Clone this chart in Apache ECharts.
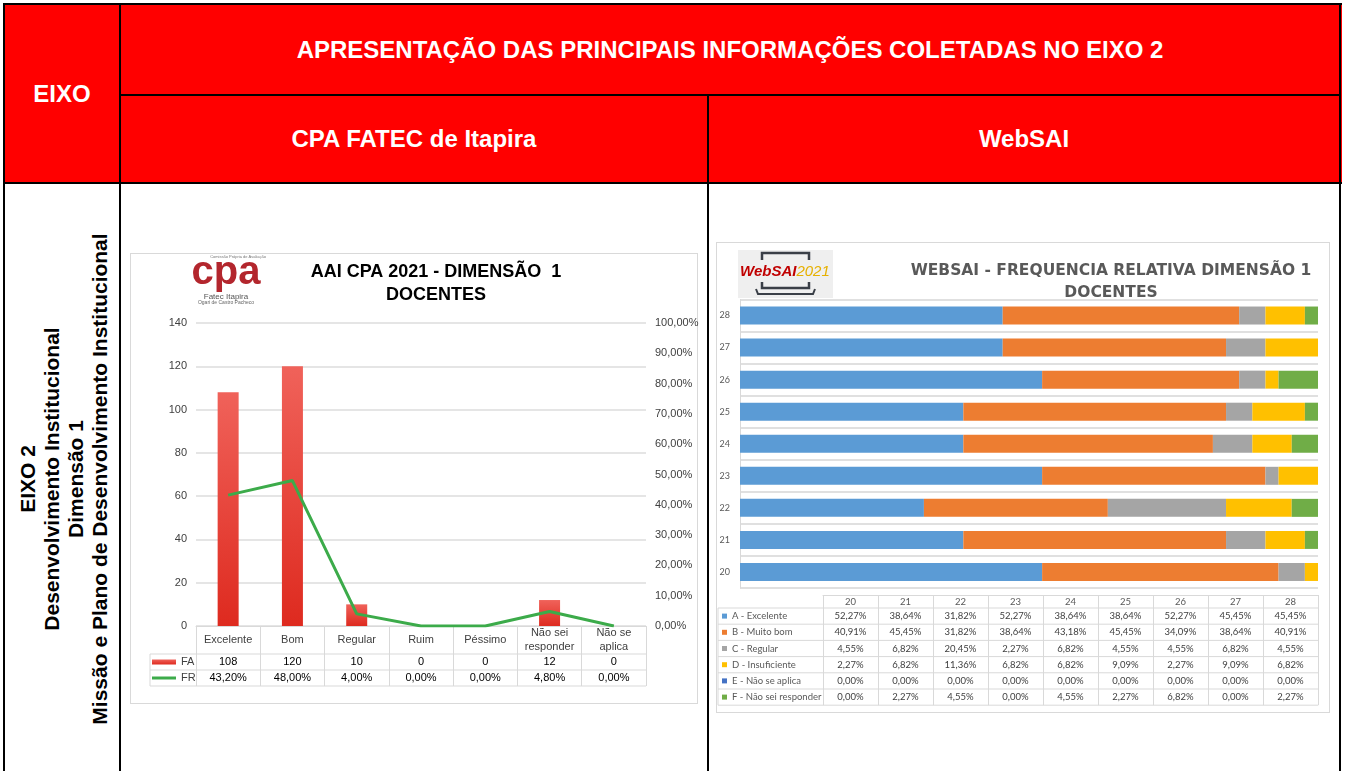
<!DOCTYPE html>
<html>
<head>
<meta charset="utf-8">
<script src="https://cdn.jsdelivr.net/npm/echarts@6/dist/echarts.min.js"></script>
<style>
  body { margin: 0; width: 1346px; height: 771px; overflow: hidden; background: #fff; font-family: "Liberation Sans", Arial, sans-serif; }
  .abs { position: absolute; }
  .ln { position: absolute; background: #000; }
  .hd { position: absolute; display: flex; align-items: center; justify-content: center; color: #fff; font-weight: bold; font-size: 24px; }
  .frame { position: absolute; border: 1px solid #d9d9d9; box-sizing: border-box; }
  #side { position: absolute; left: 64px; top: 479px; transform: translate(-50%, -50%) rotate(-90deg); white-space: nowrap; text-align: center; font-weight: bold; font-size: 21px; line-height: 24px; color: #000; }
</style>
</head>
<body>
  <!-- outer table of the report -->
  <div class="abs" style="left:3px;top:3px;width:1339px;height:180px;background:#ff0000"></div>
  <div class="hd" style="left:5px;top:5px;width:114px;height:177px">EIXO</div>
  <div class="hd" style="left:121px;top:5px;width:1218px;height:89px">APRESENTAÇÃO DAS PRINCIPAIS INFORMAÇÕES COLETADAS NO EIXO 2</div>
  <div class="hd" style="left:121px;top:96px;width:586px;height:86px">CPA FATEC de Itapira</div>
  <div class="hd" style="left:709px;top:96px;width:630px;height:86px">WebSAI</div>
  <div class="ln" style="left:3px;top:3px;width:1339px;height:2px"></div>
  <div class="ln" style="left:3px;top:3px;width:2px;height:768px"></div>
  <div class="ln" style="left:1339px;top:3px;width:2px;height:768px"></div>
  <div class="ln" style="left:119px;top:3px;width:2px;height:768px"></div>
  <div class="ln" style="left:707px;top:94px;width:2px;height:677px"></div>
  <div class="ln" style="left:119px;top:94px;width:1222px;height:2px"></div>
  <div class="ln" style="left:3px;top:182px;width:1339px;height:2px"></div>
  <div id="side">EIXO 2<br>Desenvolvimento Institucional<br>Dimensão 1<br>Missão e Plano de Desenvolvimento Institucional</div>

  <div class="frame" style="left:130px;top:253px;width:568px;height:451px"></div>
  <div id="cpa" class="abs" style="left:130px;top:253px;width:575px;height:451px"></div>
  <div class="frame" style="left:716px;top:242px;width:614px;height:471px"></div>
  <div id="websai" class="abs" style="left:716px;top:242px;width:614px;height:471px"></div>

<script>
// ---- CPA FATEC chart data ----
const cpaCategories = ["Excelente", "Bom", "Regular", "Ruim", "Péssimo", "Não sei\nresponder", "Não se\naplica"];
const cpaFA = [108, 120, 10, 0, 0, 12, 0];
const cpaFR = [43.2, 48.0, 4.0, 0, 0, 4.8, 0];
const cpaCountMax = 140, cpaCountStep = 20;
const cpaPctMax = 100, cpaPctStep = 10;

// ---- WebSAI chart data ----
const websaiCols = ["20", "21", "22", "23", "24", "25", "26", "27", "28"];
const websaiNames = ["A - Excelente", "B - Muito bom", "C - Regular", "D - Insuficiente", "E - Não se aplica", "F - Não sei responder"];
const websaiA = [52.27, 38.64, 31.82, 52.27, 38.64, 38.64, 52.27, 45.45, 45.45];
const websaiB = [40.91, 45.45, 31.82, 38.64, 43.18, 45.45, 34.09, 38.64, 40.91];
const websaiC = [4.55, 6.82, 20.45, 2.27, 6.82, 4.55, 4.55, 6.82, 4.55];
const websaiD = [2.27, 6.82, 11.36, 6.82, 6.82, 9.09, 2.27, 9.09, 6.82];
const websaiE = [0, 0, 0, 0, 0, 0, 0, 0, 0];
const websaiF = [0, 2.27, 4.55, 0, 4.55, 2.27, 6.82, 0, 2.27];
const websaiColors = ["#5b9bd5", "#ed7d31", "#a5a5a5", "#ffc000", "#4472c4", "#70ad47"];

const ARIAL = '"Liberation Sans", Arial, sans-serif';
const pct = (v) => v.toFixed(2).replace(".", ",") + "%";

function txt(x, y, text, font, fill, align) {
  return {
    type: "text", x: x, y: y, silent: true,
    style: { text: text, font: font, fill: fill, align: align || "center", textAlign: align || "center", verticalAlign: "middle", textVerticalAlign: "middle" },
  };
}
function hline(x1, x2, y, color) {
  return { type: "line", silent: true, shape: { x1: x1, y1: y, x2: x2, y2: y }, style: { stroke: color || "#d9d9d9", lineWidth: 1 } };
}
function vline(x, y1, y2, color) {
  return { type: "line", silent: true, shape: { x1: x, y1: y1, x2: x, y2: y2 }, style: { stroke: color || "#d9d9d9", lineWidth: 1 } };
}

// ================= left chart =================
const L = { left: 66, top: 70, width: 450, height: 303 };
const catRowH = 28, valRowH = 16;
const lBase = L.top + L.height;
const lRight = L.left + L.width;

const cpaChart = echarts.init(document.getElementById("cpa"));
cpaChart.setOption({
  animation: false,
  textStyle: { fontFamily: ARIAL },
  grid: L,
  legend: {
    orient: "vertical", left: 22, top: lBase + catRowH, padding: 0, itemGap: 0,
    itemWidth: 24, itemHeight: 5, selectedMode: false,
    textStyle: { fontSize: 11, lineHeight: valRowH, color: "#404040", fontFamily: ARIAL },
    data: [
      { name: "FA", icon: "rect" },
      { name: "FR", icon: "path://M0,0 L24,0 L24,3 L0,3 Z" },
    ],
  },
  xAxis: {
    type: "category",
    data: cpaCategories,
    axisLine: { lineStyle: { color: "#d9d9d9" } },
    axisTick: { show: true, length: catRowH + 2 * valRowH, lineStyle: { color: "#d9d9d9" } },
    axisLabel: {
      interval: 0, margin: 0,
      formatter: (v, i) => {
        const cat = v.indexOf("\n") >= 0
          ? v.split("\n").map((s) => "{c2|" + s + "}").join("\n")
          : "{c1|" + v + "}";
        return cat + "\n{v|" + cpaFA[i] + "}\n{v|" + pct(cpaFR[i]) + "}";
      },
      rich: {
        c1: { fontSize: 11, lineHeight: catRowH, color: "#404040", fontFamily: ARIAL },
        c2: { fontSize: 11, lineHeight: catRowH / 2, color: "#404040", fontFamily: ARIAL },
        v: { fontSize: 11, lineHeight: valRowH, color: "#000", fontFamily: ARIAL },
      },
    },
  },
  yAxis: [
    {
      type: "value", min: 0, max: cpaCountMax, interval: cpaCountStep,
      axisLine: { show: false }, axisTick: { show: false },
      axisLabel: { fontSize: 11, color: "#404040", margin: 9 },
      splitLine: { lineStyle: { color: "#dcdcdc", width: 1.5 } },
    },
    {
      type: "value", min: 0, max: cpaPctMax, interval: cpaPctStep,
      axisLine: { show: false }, axisTick: { show: false },
      axisLabel: { fontSize: 11, color: "#404040", margin: 9, formatter: (v) => pct(v) },
      splitLine: { show: false },
    },
  ],
  series: [
    {
      name: "FA", type: "bar", data: cpaFA, barWidth: 21,
      itemStyle: {
        color: new echarts.graphic.LinearGradient(0, 0, 0, 1, [
          { offset: 0, color: "#f0625a" },
          { offset: 1, color: "#de2a1f" },
        ]),
      },
    },
    {
      name: "FR", type: "line", yAxisIndex: 1, data: cpaFR, symbol: "none",
      lineStyle: { color: "#3cab4a", width: 3 }, itemStyle: { color: "#3cab4a" },
    },
  ],
  graphic: [
    // logo
    txt(96, 20, "cpa", 'bold 40px "Liberation Sans"', "#b3262d"),
    txt(108, 4, "Comissão Própria de Avaliação", '4px "Liberation Sans"', "#777"),
    txt(96, 44, "Fatec Itapira", '8px "Liberation Sans"', "#555"),
    txt(96, 50, "Ogari de Castro Pacheco", '5px "Liberation Sans"', "#666"),
    // title
    txt(306, 19, "AAI CPA 2021 - DIMENSÃO  1", 'bold 18px "Liberation Sans"', "#000"),
    txt(306, 42, "DOCENTES", 'bold 18px "Liberation Sans"', "#000"),
    // data table rules
    hline(20, lRight, lBase + catRowH),
    hline(20, lRight, lBase + catRowH + valRowH),
    hline(20, lRight, lBase + catRowH + 2 * valRowH),
    vline(20, lBase + catRowH, lBase + catRowH + 2 * valRowH),
  ],
});

// ================= right chart =================
const R = { left: 24, top: 57.5, width: 578, height: 288.5 };
const T = { left: 107, top: 353, width: 495, head: 13, row: 16.2 };
const websaiSeries = [websaiA, websaiB, websaiC, websaiD, websaiE, websaiF];
const tBody = T.top + T.head;
const tRules = [];
for (let k = 0; k <= websaiSeries.length; k++) tRules.push(hline(2, T.left + T.width, tBody + k * T.row));
tRules.push(vline(2, tBody, tBody + websaiSeries.length * T.row));

const LATO = "Lato, sans-serif";
const websaiChart = echarts.init(document.getElementById("websai"));
websaiChart.setOption({
  animation: false,
  textStyle: { fontFamily: LATO },
  grid: [R, { left: T.left, top: T.top - 1, width: T.width, height: 1 }],
  legend: {
    orient: "vertical", left: 6, top: tBody, padding: 0, itemGap: 0,
    itemWidth: 5, itemHeight: 5, icon: "rect", selectedMode: false,
    textStyle: { fontSize: 9.5, lineHeight: T.row, color: "#595959", fontFamily: LATO },
    data: websaiNames,
  },
  xAxis: [
    { type: "value", gridIndex: 0, min: 0, max: 100, show: false },
    {
      type: "category", gridIndex: 1, data: websaiCols, position: "bottom",
      axisLine: { lineStyle: { color: "#d9d9d9" } },
      axisTick: { show: true, length: T.head + websaiSeries.length * T.row, lineStyle: { color: "#d9d9d9" } },
      axisLabel: {
        interval: 0, margin: 0,
        formatter: (v, i) => "{h|" + v + "}\n" + websaiSeries.map((s) => "{v|" + pct(s[i]) + "}").join("\n"),
        rich: {
          h: { fontSize: 9.5, lineHeight: T.head, color: "#595959", fontFamily: LATO },
          v: { fontSize: 9.5, lineHeight: T.row, color: "#404040", fontFamily: LATO },
        },
      },
    },
  ],
  yAxis: [
    {
      type: "category", gridIndex: 0, data: websaiCols,
      axisLine: { lineStyle: { color: "#d9d9d9" } }, axisTick: { show: false },
      axisLabel: { fontSize: 9, color: "#595959", margin: 10 },
      splitLine: { show: true, lineStyle: { color: "#e0e0e0", width: 2 } },
    },
    { type: "value", gridIndex: 1, show: false },
  ],
  series: websaiNames.map((name, k) => ({
    name: name, type: "bar", stack: "total", barWidth: 18,
    xAxisIndex: 0, yAxisIndex: 0,
    data: websaiSeries[k],
    itemStyle: { color: websaiColors[k] },
  })),
  graphic: [
    // logo
    { type: "rect", silent: true, shape: { x: 22, y: 8, width: 95, height: 48 }, style: { fill: "#efefef" } },
    { type: "polyline", silent: true, shape: { points: [[46, 18], [46, 11], [93, 11], [93, 18]] }, style: { stroke: "#3a3f47", lineWidth: 2.5, fill: null } },
    { type: "polyline", silent: true, shape: { points: [[46, 40], [46, 46], [93, 46], [93, 40]] }, style: { stroke: "#3a3f47", lineWidth: 2.5, fill: null } },
    { type: "polyline", silent: true, shape: { points: [[40, 47], [42, 52], [97, 52], [99, 47]] }, style: { stroke: "#3a3f47", lineWidth: 2, fill: null } },
    {
      type: "text", x: 24, y: 30, silent: true,
      style: {
        text: "{a|WebSAI}{b|2021}", align: "left", textAlign: "left", verticalAlign: "middle", textVerticalAlign: "middle",
        rich: {
          a: { fontSize: 15, fontWeight: "bold", fontStyle: "italic", fill: "#c00000", color: "#c00000", fontFamily: ARIAL },
          b: { fontSize: 15, fontStyle: "italic", fill: "#e6b000", color: "#e6b000", fontFamily: ARIAL },
        },
      },
    },
    // title
    txt(395, 29, "WEBSAI - FREQUENCIA RELATIVA DIMENSÃO 1", 'bold 15.5px "DejaVu Sans"', "#595959"),
    txt(395, 51, "DOCENTES", 'bold 15.5px "DejaVu Sans"', "#595959"),
  ].concat(tRules),
});
</script>
</body>
</html>
